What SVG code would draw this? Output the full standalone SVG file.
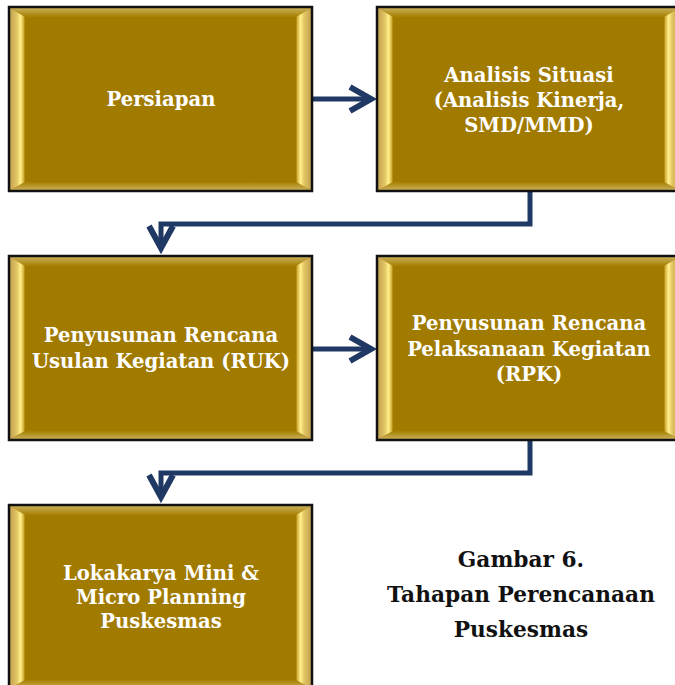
<svg xmlns="http://www.w3.org/2000/svg" xmlns:xlink="http://www.w3.org/1999/xlink" width="675" height="685" viewBox="0 0 675 685">
<style>
.lbl{font-family:"DejaVu Serif","Liberation Serif",serif;font-weight:bold;font-size:19.6px;fill:#ffffff;text-anchor:middle}
.cap{font-family:"DejaVu Serif","Liberation Serif",serif;font-weight:bold;font-size:21.7px;fill:#111111;text-anchor:middle}
.con{fill:none;stroke:#1f3864;stroke-width:5}
.head{fill:none;stroke:#1f3864;stroke-width:6;stroke-linejoin:miter;stroke-linecap:butt}
</style>
<defs>
<linearGradient id="gTop" x1="0" y1="0" x2="0" y2="1"><stop offset="0" stop-color="#cbae58"/><stop offset="1" stop-color="#a58000"/></linearGradient>
<linearGradient id="gBot" x1="0" y1="1" x2="0" y2="0"><stop offset="0" stop-color="#cbae58"/><stop offset="1" stop-color="#a58000"/></linearGradient>
<linearGradient id="gLeft" x1="0" y1="0" x2="1" y2="0"><stop offset="0" stop-color="#c4a452"/><stop offset="0.45" stop-color="#e2c563"/><stop offset="0.7" stop-color="#fff08c"/><stop offset="0.9" stop-color="#d8b540"/><stop offset="1" stop-color="#a88000"/></linearGradient>
<linearGradient id="gRight" x1="1" y1="0" x2="0" y2="0"><stop offset="0" stop-color="#c4a452"/><stop offset="0.45" stop-color="#e2c563"/><stop offset="0.7" stop-color="#fff08c"/><stop offset="0.9" stop-color="#d8b540"/><stop offset="1" stop-color="#a88000"/></linearGradient>
<g id="box">
<rect x="0" y="0" width="303" height="184" fill="#a17a00"/>
<polygon points="1,1 302,1 287,10 16,10" fill="url(#gTop)"/>
<polygon points="1,183 302,183 287,175 16,175" fill="url(#gBot)"/>
<polygon points="1,1 16,10 16,175 1,183" fill="url(#gLeft)"/>
<polygon points="302,1 287,10 287,175 302,183" fill="url(#gRight)"/>
<rect x="0" y="0" width="303" height="184" fill="none" stroke="#111111" stroke-width="2.5"/>
</g>
</defs>

<g id="connectors">
<line class="con" x1="312" y1="99" x2="370" y2="99"/>
<polyline class="head" points="350,87 371,99 350,111"/>
<path class="con" d="M530,191 V224 H161 V246"/>
<polyline class="head" points="149,226 161,248 173,226"/>
<line class="con" x1="312" y1="349" x2="370" y2="349"/>
<polyline class="head" points="350,337 371,349 350,361"/>
<path class="con" d="M530,440 V473 H161 V495"/>
<polyline class="head" points="149,475 161,497 173,475"/>
</g>

<g id="n1">
<use xlink:href="#box" x="9" y="7"/>
<text class="lbl" x="161" y="106">Persiapan</text>
</g>
<g id="n2">
<use xlink:href="#box" x="377" y="7"/>
<text class="lbl" x="529" y="82">Analisis Situasi</text>
<text class="lbl" x="529" y="107">(Analisis Kinerja,</text>
<text class="lbl" x="529" y="132">SMD/MMD)</text>
</g>
<g id="n3">
<use xlink:href="#box" x="9" y="256"/>
<text class="lbl" x="161" y="342">Penyusunan Rencana</text>
<text class="lbl" x="161" y="368">Usulan Kegiatan (RUK)</text>
</g>
<g id="n4">
<use xlink:href="#box" x="377" y="256"/>
<text class="lbl" x="529" y="330">Penyusunan Rencana</text>
<text class="lbl" x="529" y="356">Pelaksanaan Kegiatan</text>
<text class="lbl" x="529" y="381">(RPK)</text>
</g>
<g id="n5">
<use xlink:href="#box" x="9" y="505"/>
<text class="lbl" x="161" y="580">Lokakarya Mini &amp;</text>
<text class="lbl" x="161" y="604">Micro Planning</text>
<text class="lbl" x="161" y="628">Puskesmas</text>
</g>

<g id="caption">
<text class="cap" x="521" y="567">Gambar 6.</text>
<text class="cap" x="521" y="602">Tahapan Perencanaan</text>
<text class="cap" x="521" y="637">Puskesmas</text>
</g>
</svg>
